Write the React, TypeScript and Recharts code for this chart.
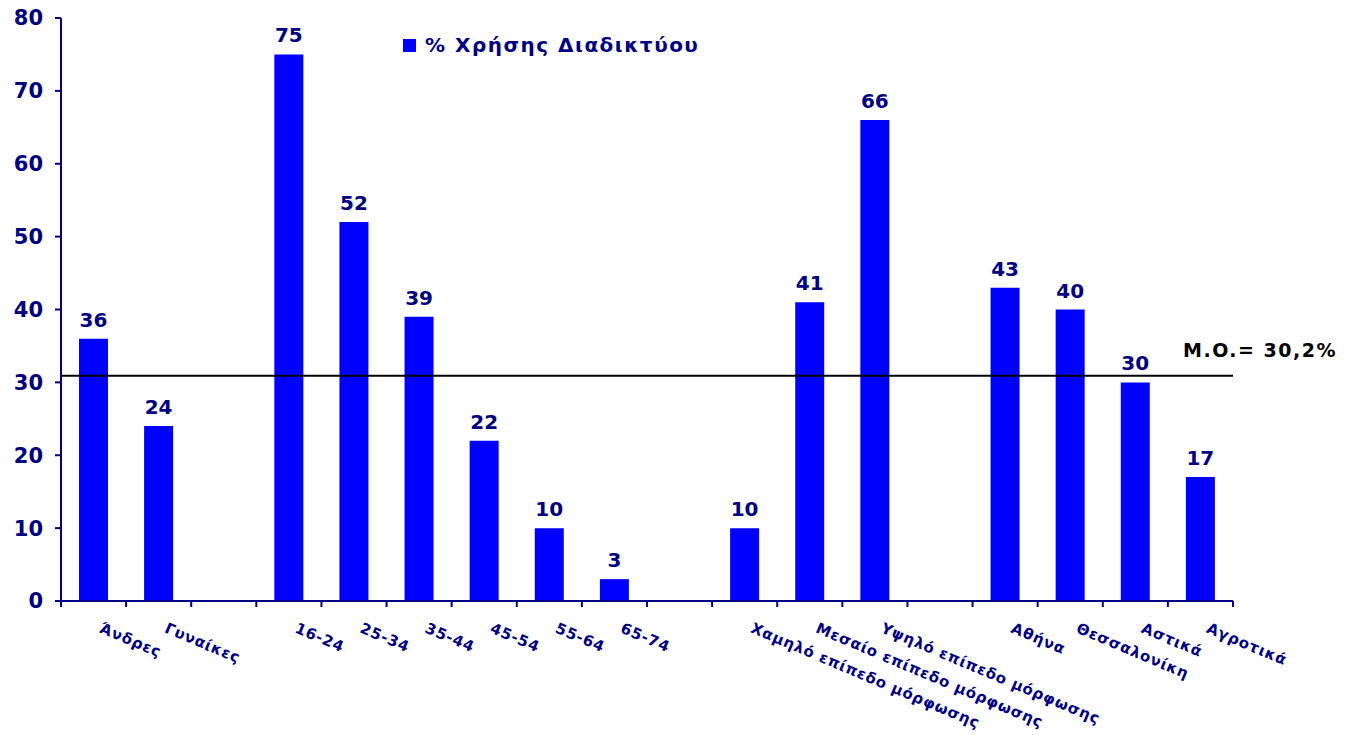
import { BarChart, Bar, XAxis, YAxis, ReferenceLine, LabelList } from "recharts";

// empty strings are the gaps between groups
const categories = [
  "Άνδρες",
  "Γυναίκες",
  "",
  "16-24",
  "25-34",
  "35-44",
  "45-54",
  "55-64",
  "65-74",
  "",
  "Χαμηλό επίπεδο μόρφωσης",
  "Μεσαίο επίπεδο μόρφωσης",
  "Υψηλό επίπεδο μόρφωσης",
  "",
  "Αθήνα",
  "Θεσσαλονίκη",
  "Αστικά",
  "Αγροτικά",
];
const usage = [36, 24, null, 75, 52, 39, 22, 10, 3, null, 10, 41, 66, null, 43, 40, 30, 17];
const yTicks = [0, 10, 20, 30, 40, 50, 60, 70, 80];
const seriesName = "% Χρήσης Διαδικτύου";
const meanLabel = "M.O.= 30,2%";
const meanLineAt = 30.9; // line sits slightly above 30 in the original

const data = categories.map((name, i) => ({ name, value: usage[i] }));

const W = 1360;
const H = 735;
const M = { top: 18, right: 127, bottom: 0, left: 0 };
const X_H = 134;
const Y_W = 61;
const NAVY = "#000080";
const BLUE = "#0000FF";
const FONT = "'DejaVu Sans', Verdana, sans-serif";

const half = (W - M.right - Y_W) / data.length / 2;

function XTick(props: any) {
  const { x, y, payload, index } = props;
  const tx = x + 5;
  const ty = y + 31;
  return (
    <g>
      <line x1={x - half} x2={x - half} y1={y} y2={y + 6} stroke={NAVY} strokeWidth={2} />
      {index === data.length - 1 && (
        <line x1={x + half} x2={x + half} y1={y} y2={y + 6} stroke={NAVY} strokeWidth={2} />
      )}
      <text
        x={tx}
        y={ty}
        transform={`rotate(23, ${tx}, ${ty})`}
        textAnchor="start"
        fill={NAVY}
        fontSize={15}
        letterSpacing={0.8}
        fontWeight="bold"
        fontFamily={FONT}
      >
        {payload.value}
      </text>
    </g>
  );
}

function MeanLabel(props: any) {
  const { viewBox } = props;
  return (
    <text
      x={viewBox.x + viewBox.width - 50}
      y={viewBox.y - 19}
      fill="#000"
      fontSize={19}
      letterSpacing={1.5}
      fontWeight="bold"
      fontFamily={FONT}
    >
      {meanLabel}
    </text>
  );
}

export default function App() {
  return (
    <div style={{ position: "absolute", left: 0, top: 0, width: W, height: H, background: "#fff" }}>
      <BarChart width={W} height={H} data={data} margin={M}>
        <XAxis
          dataKey="name"
          interval={0}
          tickSize={0}
          tickMargin={0}
          tick={<XTick />}
          axisLine={{ stroke: NAVY, strokeWidth: 2 }}
          tickLine={false}
          height={X_H}
        />
        <YAxis
          domain={[0, 80]}
          ticks={yTicks}
          width={Y_W}
          tickSize={6}
          tickMargin={12}
          axisLine={{ stroke: NAVY, strokeWidth: 2 }}
          tickLine={{ stroke: NAVY, strokeWidth: 2 }}
          tick={{ fill: NAVY, fontSize: 21, fontWeight: "bold", fontFamily: FONT }}
        />
        <ReferenceLine y={meanLineAt} stroke="#000" strokeWidth={2} label={<MeanLabel />} />
        <Bar dataKey="value" name={seriesName} fill={BLUE} barSize={29} isAnimationActive={false}>
          <LabelList
            dataKey="value"
            position="top"
            offset={12}
            fill={NAVY}
            fontSize={20}
            fontWeight="bold"
            fontFamily={FONT}
          />
        </Bar>
      </BarChart>
      <div
        style={{
          position: "absolute",
          left: 389,
          top: 29,
          display: "flex",
          alignItems: "center",
          background: "#fff",
          padding: "4px 14px",
          fontFamily: FONT,
          fontWeight: "bold",
          fontSize: 20,
          letterSpacing: 1.5,
          color: NAVY,
          whiteSpace: "nowrap",
        }}
      >
        <span style={{ width: 13, height: 13, background: BLUE, marginRight: 9, display: "inline-block" }} />
        {seriesName}
      </div>
    </div>
  );
}
